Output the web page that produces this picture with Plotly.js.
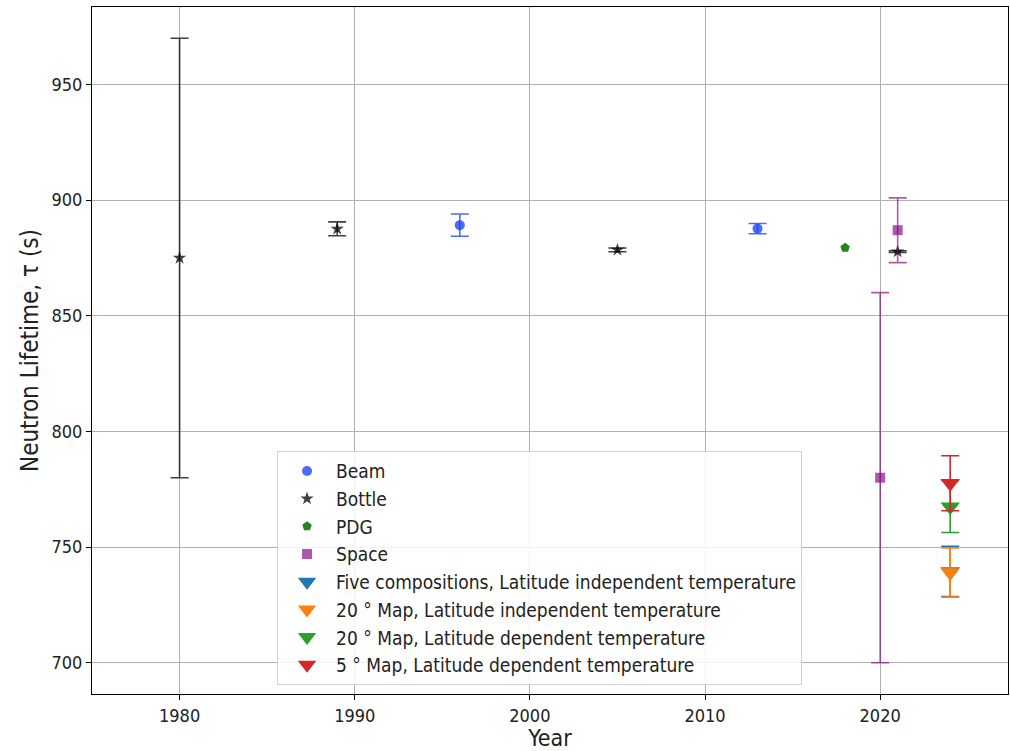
<!DOCTYPE html>
<html><head><meta charset="utf-8">
<script src="https://cdn.plot.ly/plotly-3.0.1.min.js"></script>
<style>body{margin:0;background:#fff}#chart{width:1010px;height:751px}</style>
</head><body><div id="chart"></div>
<script>
// Data
const beamYears = [1996, 2013];
const beamTau = [889.2, 887.7];
const beamErr = [4.8, 2.2];

const bottleYears = [1980, 1989, 2005, 2021];
const bottleTau = [875, 887.6, 878.5, 877.75];
const bottleErr = [95, 3.0, 0.8, 0.4];

const pdgYears = [2018];
const pdgTau = [879.4];

const spaceYears = [2020, 2021];
const spaceTau = [780, 887];
const spaceErr = [80, 14];

const modelYear = [2024];
const fiveCompTau = [739.5], fiveCompErr = [10.9];
const map20IndTau = [739], map20IndErr = [10.6];
const map20DepTau = [767.5], map20DepErr = [11.2];
const map5DepTau = [777.6], map5DepErr = [11.9];

const legendNames = ["Beam", "Bottle", "PDG", "Space",
  "Five compositions, Latitude independent temperature",
  "20 ° Map, Latitude independent temperature",
  "20 ° Map, Latitude dependent temperature",
  "5 ° Map, Latitude dependent temperature"];

const xTicks = [1980, 1990, 2000, 2010, 2020];
const yTicks = [700, 750, 800, 850, 900, 950];

function tr(x, y, err, name, color, symbol, size) {
  const t = {
    x: x, y: y, name: name, type: 'scatter', mode: 'markers',
    marker: {color: color, symbol: symbol, size: size, line: {width: 0}}
  };
  if (err) t.error_y = {type: 'data', array: err, visible: true, color: color, thickness: 1.6, width: 9};
  return t;
}

const traces = [
  tr(beamYears, beamTau, beamErr, legendNames[0], 'rgba(30,70,250,0.8)', 'circle', 10),
  tr(bottleYears, bottleTau, bottleErr, legendNames[1], 'rgba(0,0,0,0.75)', 'star', 10),
  tr(pdgYears, pdgTau, null, legendNames[2], 'rgba(0,110,0,0.85)', 'pentagon', 10),
  tr(spaceYears, spaceTau, spaceErr, legendNames[3], 'rgba(128,0,128,0.65)', 'square', 10),
  tr(modelYear, fiveCompTau, fiveCompErr, legendNames[4], '#1f77b4', 'triangle-down', 17),
  tr(modelYear, map20IndTau, map20IndErr, legendNames[5], '#ff7f0e', 'triangle-down', 17),
  tr(modelYear, map20DepTau, map20DepErr, legendNames[6], '#2ca02c', 'triangle-down', 17),
  tr(modelYear, map5DepTau, map5DepErr, legendNames[7], '#d62728', 'triangle-down', 17)
];

const FONT = '"DejaVu Sans Condensed", "Liberation Sans Narrow", "DejaVu Sans", sans-serif';

const layout = {
  width: 1010, height: 751,
  margin: {l: 92, r: 2, t: 7, b: 57},
  paper_bgcolor: '#fff', plot_bgcolor: '#fff',
  font: {family: FONT, size: 18, color: '#222'},
  showlegend: true,
  xaxis: {
    range: [1975, 2027.3], tickvals: xTicks, ticktext: xTicks.map(String),
    showgrid: true, gridcolor: '#b0b0b0', gridwidth: 1, zeroline: false,
    showline: true, linecolor: '#000', linewidth: 1, mirror: true,
    ticks: 'outside', ticklen: 5, tickcolor: '#000',
    tickfont: {size: 18},
    title: {text: 'Year', font: {size: 23}, standoff: 3}
  },
  yaxis: {
    range: [686.5, 983.5], tickvals: yTicks, ticktext: yTicks.map(String),
    showgrid: true, gridcolor: '#b0b0b0', gridwidth: 1, zeroline: false,
    showline: true, linecolor: '#000', linewidth: 1, mirror: true,
    ticks: 'outside', ticklen: 5, tickcolor: '#000',
    tickfont: {size: 18},
    title: {text: 'Neutron Lifetime, τ (s)', font: {size: 24}, standoff: 6}
  },
  legend: {
    x: 0.202, y: 0.013, xanchor: 'left', yanchor: 'bottom',
    bgcolor: 'rgba(255,255,255,0.85)', bordercolor: '#d0d0d0', borderwidth: 1,
    font: {size: 19, color: '#222'}, tracegroupgap: 0, itemwidth: 48
  }
};

Plotly.newPlot('chart', traces, layout, {displayModeBar: false, staticPlot: true});
</script></body></html>
